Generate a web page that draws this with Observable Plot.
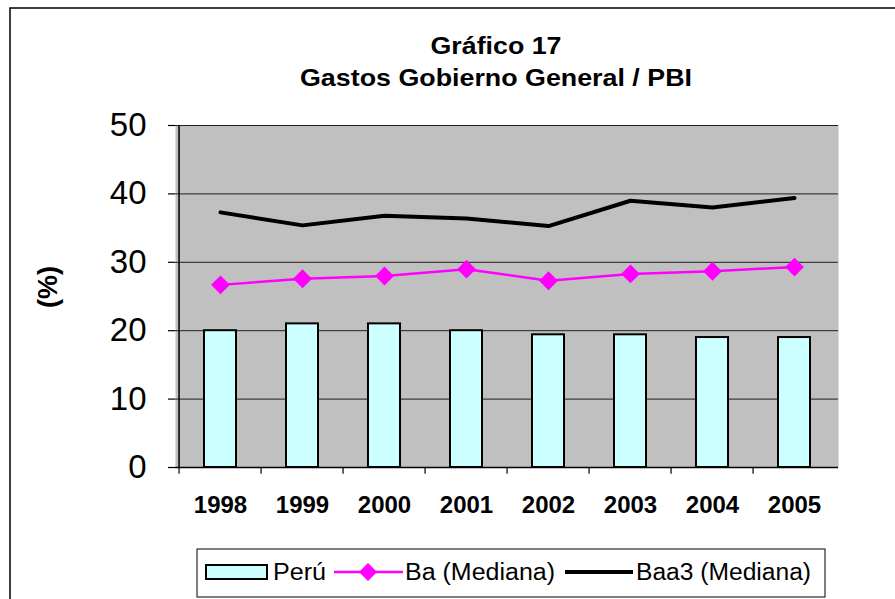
<!DOCTYPE html>
<html><head><meta charset="utf-8">
<script src="https://cdn.jsdelivr.net/npm/d3@7"></script>
<script src="https://cdn.jsdelivr.net/npm/@observablehq/plot@0.6"></script>
<style>
body{margin:0;background:#fff;}
#wrap{position:relative;width:895px;height:599px;overflow:hidden;font-family:Arial,"Liberation Sans",sans-serif;}
#wrap svg{position:absolute;left:0;top:0;}
</style></head><body><div id="wrap"></div>
<script>
const years = ["1998","1999","2000","2001","2002","2003","2004","2005"];
const peru = [20.0,21.0,21.0,20.0,19.4,19.4,19.0,19.0];
const ba = [26.7,27.6,28.0,29.0,27.3,28.3,28.7,29.3];
const baa3 = [37.3,35.4,36.8,36.4,35.3,39.0,38.0,39.4];
const yTicks = [0,10,20,30,40,50];
const titleLines = ["Gráfico 17","Gastos Gobierno General / PBI"];
const yLabel = "(%)";
const seriesNames = ["Perú","Ba (Mediana)","Baa3 (Mediana)"];

const W = 895, H = 599;
const mL = 175, mR = 57, mT = 125, mB = 132;
const step = (W - mL - mR) / years.length;
const rows = years.map((y,i)=>({year:y, peru:peru[i], ba:ba[i], baa3:baa3[i]}));
const font = "Arial, 'Liberation Sans', sans-serif";

const plot = Plot.plot({
  width: W, height: H,
  marginLeft: mL, marginRight: mR, marginTop: mT, marginBottom: mB,
  style: {background:"transparent", fontFamily: font, overflow:"visible", color:"#000"},
  x: {type:"band", domain: years, padding: 0, axis: null, label: null},
  y: {domain: [0,50], axis: null, label: null},
  marks: [
    Plot.frame({fill:"#C0C0C0", stroke:null}),
    Plot.gridY(yTicks.slice(1), {stroke:"#000", strokeOpacity:0.85, strokeWidth:1}),
    Plot.barY(rows, {x:"year", y:"peru", fill:"#CCFFFF", stroke:"#000", strokeWidth:2, insetLeft:25, insetRight:25}),
    Plot.line(rows, {x:"year", y:"baa3", stroke:"#000", strokeWidth:4}),
    Plot.line(rows, {x:"year", y:"ba", stroke:"#FF00FF", strokeWidth:2.5}),
    Plot.dot(rows, {x:"year", y:"ba", symbol:"diamond2", r:8.5, fill:"#FF00FF", stroke:null}),
    Plot.ruleY([0], {stroke:"#000", strokeWidth:1.5}),
    Plot.ruleX(years.slice(0,1), {x:d=>d, dx:-step/2, stroke:"#000", strokeWidth:1.5}),
    Plot.ruleX(years, {x:d=>d, y1:0, y2:-1, dx:-step/2, stroke:"#000", strokeWidth:1.2}),
    Plot.axisY(yTicks, {tickSize:7, tickPadding:22, fontSize:33, stroke:"#000", strokeWidth:1.2, label:null}),
    Plot.axisX({tickSize:0, tickPadding:28, fontSize:24, fontWeight:"bold", label:null})
  ]
});
const wrap = document.getElementById("wrap");
wrap.appendChild(plot);

// overlay: border, title, y label, legend
const svg = d3.select(wrap).append("svg").attr("width", W).attr("height", H)
  .style("font-family", font).style("pointer-events","none");
svg.append("rect").attr("x",10).attr("y",8).attr("width",1000).attr("height",1000)
  .attr("fill","none").attr("stroke","#000").attr("stroke-width",1.5);
svg.append("text").attr("x",496).attr("y",54).attr("text-anchor","middle")
  .attr("font-size",24).attr("font-weight","bold")
  .attr("textLength",131).attr("lengthAdjust","spacingAndGlyphs").text(titleLines[0]);
svg.append("text").attr("x",496).attr("y",86).attr("text-anchor","middle")
  .attr("font-size",24).attr("font-weight","bold")
  .attr("textLength",392).attr("lengthAdjust","spacingAndGlyphs").text(titleLines[1]);
svg.append("text").attr("transform","translate(57,287) rotate(-90)").attr("text-anchor","middle")
  .attr("font-size",27).attr("font-weight","bold").text(yLabel);

const lg = svg.append("g");
lg.append("rect").attr("x",197).attr("y",549).attr("width",628).attr("height",48)
  .attr("fill","#fff").attr("stroke","#000").attr("stroke-width",1);
lg.append("rect").attr("x",206).attr("y",565).attr("width",61).attr("height",14)
  .attr("fill","#CCFFFF").attr("stroke","#000").attr("stroke-width",2);
lg.append("text").attr("x",273).attr("y",580).attr("font-size",23)
  .attr("textLength",53).attr("lengthAdjust","spacingAndGlyphs").text(seriesNames[0]);
lg.append("line").attr("x1",334).attr("x2",403).attr("y1",572).attr("y2",572)
  .attr("stroke","#FF00FF").attr("stroke-width",2.5);
lg.append("path").attr("d","M368,563L377,572L368,581L359,572Z").attr("fill","#FF00FF");
lg.append("text").attr("x",405).attr("y",580).attr("font-size",23)
  .attr("textLength",150).attr("lengthAdjust","spacingAndGlyphs").text(seriesNames[1]);
lg.append("line").attr("x1",565).attr("x2",633).attr("y1",572).attr("y2",572)
  .attr("stroke","#000").attr("stroke-width",4);
lg.append("text").attr("x",636).attr("y",580).attr("font-size",23)
  .attr("textLength",175).attr("lengthAdjust","spacingAndGlyphs").text(seriesNames[2]);
</script>
</body></html>
